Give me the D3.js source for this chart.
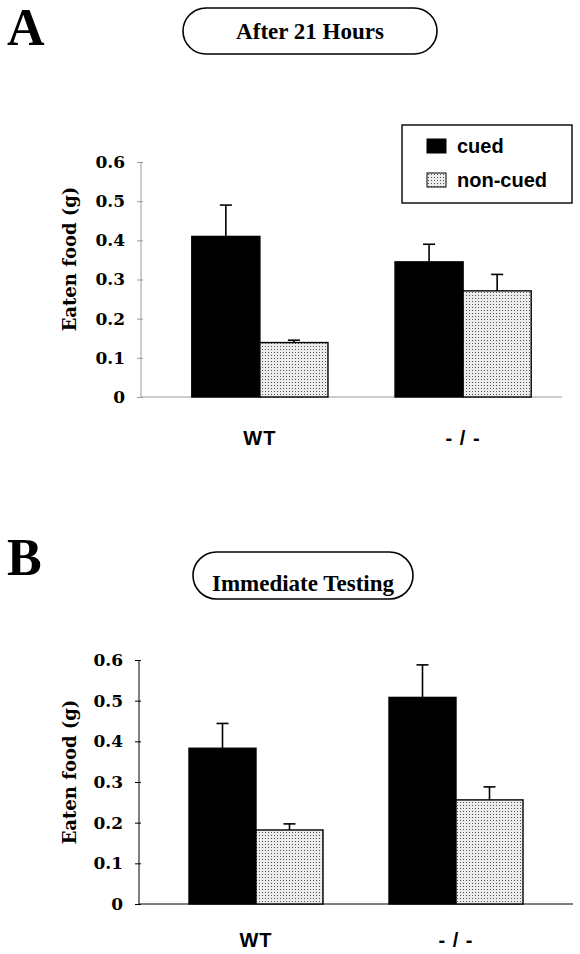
<!DOCTYPE html>
<html>
<head>
<meta charset="utf-8">
<title>eaten food - cued vs non-cued</title>
<style>
  body { margin: 0; background: #fff; }
  svg { display: block; }
</style>
<script src="https://cdn.jsdelivr.net/npm/d3@7"></script>
</head>
<body>
<script>
// data
const groups = ["WT", "- / -"];
const series = ["cued", "non-cued"];
const yTicks = [0, 0.1, 0.2, 0.3, 0.4, 0.5, 0.6];

const after21Cued = [0.41, 0.345];
const after21CuedErr = [0.08, 0.045];
const after21NonCued = [0.139, 0.271];
const after21NonCuedErr = [0.006, 0.042];

const immediateCued = [0.383, 0.508];
const immediateCuedErr = [0.061, 0.08];
const immediateNonCued = [0.182, 0.256];
const immediateNonCuedErr = [0.015, 0.032];

const W = 580, H = 954;
const SERIF = "'DejaVu Serif', serif";
const TIMES = "'Liberation Serif', serif";
const SANS = "'Liberation Sans', Arial, sans-serif";

const svg = d3.select("body").append("svg").attr("width", W).attr("height", H);

// stipple for the non-cued bars
const pat = svg.append("defs").append("pattern")
    .attr("id", "stipple").attr("width", 3).attr("height", 3)
    .attr("patternUnits", "userSpaceOnUse");
pat.append("rect").attr("width", 3).attr("height", 3).attr("fill", "#ececec");
pat.append("rect").attr("x", 1).attr("y", 1).attr("width", 1).attr("height", 1).attr("fill", "#555");

const fills = { "cued": "#000", "non-cued": "url(#stipple)" };

function drawPanel(p) {
    const g = svg.append("g");

    // panel letter
    g.append("text").attr("x", 7).attr("y", p.letterY)
        .style("font-family", TIMES).style("font-weight", "bold")
        .style("font-size", "52px").text(p.letter);

    // rounded title box
    g.append("rect").attr("x", p.pill[0]).attr("y", p.pill[1])
        .attr("width", p.pill[2]).attr("height", p.pill[3])
        .attr("rx", p.pill[3] / 2).attr("fill", "none").attr("stroke", "#000").attr("stroke-width", 1.6);
    g.append("text")
        .attr("x", p.pill[0] + p.pill[2] / 2).attr("y", p.titleY)
        .attr("text-anchor", "middle")
        .style("font-family", TIMES).style("font-weight", "bold").style("font-size", "23px")
        .text(p.title);

    const x0 = d3.scaleBand().domain(groups).range([p.left, p.right])
        .paddingInner(0.33).paddingOuter(0.25);
    const x1 = d3.scaleBand().domain(series).range([0, x0.bandwidth()]);
    const y = d3.scaleLinear().domain([0, 0.6]).range([p.bottom, p.top]);

    // y axis
    const ya = g.append("g").attr("transform", `translate(${p.left},0)`)
        .call(d3.axisLeft(y).tickValues(yTicks).tickSize(4).tickPadding(12)
            .tickFormat(d => d === 0 ? "0" : d3.format(".1f")(d)));
    ya.select(".domain").attr("stroke", p.axisColor).attr("d", `M0,${p.top}V${p.bottom}`);
    ya.selectAll(".tick line").attr("stroke", p.axisColor).attr("x2", -4).attr("x1", 2);
    ya.selectAll(".tick text").attr("fill", "#000")
        .style("font-family", SERIF).style("font-weight", "bold").style("font-size", "17px");

    // baseline
    g.append("line").attr("x1", p.left).attr("x2", p.axisEnd)
        .attr("y1", y(0)).attr("y2", y(0)).attr("stroke", p.axisColor).attr("stroke-width", 1);

    g.append("text")
        .attr("transform", `translate(76,${p.labelY}) rotate(-90)`)
        .attr("text-anchor", "middle")
        .style("font-family", SERIF).style("font-weight", "bold").style("font-size", "18px")
        .text("Eaten food (g)");

    // bars + error bars
    const rows = [];
    groups.forEach((grp, i) => {
        rows.push({ grp, s: "cued", v: p.cued[i], e: p.cuedErr[i] });
        rows.push({ grp, s: "non-cued", v: p.nonCued[i], e: p.nonCuedErr[i] });
    });
    const bx = d => x0(d.grp) + x1(d.s);
    const cx = d => bx(d) + x1.bandwidth() / 2;

    g.selectAll(".err").data(rows).join("line").attr("class", "err")
        .attr("x1", cx).attr("x2", cx).attr("y1", d => y(d.v)).attr("y2", d => y(d.v + d.e))
        .attr("stroke", "#000").attr("stroke-width", 1.6);
    g.selectAll(".cap").data(rows).join("line").attr("class", "cap")
        .attr("x1", d => cx(d) - 6).attr("x2", d => cx(d) + 6)
        .attr("y1", d => y(d.v + d.e)).attr("y2", d => y(d.v + d.e))
        .attr("stroke", "#000").attr("stroke-width", 1.6);
    g.selectAll(".bar").data(rows).join("rect").attr("class", "bar")
        .attr("x", bx).attr("y", d => y(d.v))
        .attr("width", x1.bandwidth()).attr("height", d => y(0) - y(d.v))
        .attr("fill", d => fills[d.s]).attr("stroke", "#000").attr("stroke-width", 1.4);

    // group labels
    g.selectAll(".grp").data(groups).join("text").attr("class", "grp")
        .attr("x", d => x0(d) + x0.bandwidth() / 2).attr("y", p.groupY)
        .attr("text-anchor", "middle")
        .style("font-family", SANS).style("font-weight", "bold").style("font-size", "20px")
        .style("letter-spacing", "1px")
        .text(d => d);
}

drawPanel({
    letter: "A", letterY: 45, title: "After 21 Hours", titleY: 39,
    pill: [183, 8, 254, 46],
    left: 141, right: 582, axisEnd: 562, top: 162, bottom: 397,
    axisColor: "#9a9a9a", labelY: 259, groupY: 445,
    cued: after21Cued, cuedErr: after21CuedErr,
    nonCued: after21NonCued, nonCuedErr: after21NonCuedErr
});

drawPanel({
    letter: "B", letterY: 575, title: "Immediate Testing", titleY: 591,
    pill: [193, 552, 220, 47],
    left: 139, right: 573, axisEnd: 573, top: 660, bottom: 904,
    axisColor: "#000", labelY: 772, groupY: 947,
    cued: immediateCued, cuedErr: immediateCuedErr,
    nonCued: immediateNonCued, nonCuedErr: immediateNonCuedErr
});

// legend (panel A)
const leg = svg.append("g");
leg.append("rect").attr("x", 402).attr("y", 125).attr("width", 170).attr("height", 78)
    .attr("fill", "#fff").attr("stroke", "#000").attr("stroke-width", 1.4);
const li = leg.selectAll(".li").data(series).join("g").attr("class", "li")
    .attr("transform", (d, i) => `translate(427,${139 + i * 34})`);
li.append("rect").attr("width", 19).attr("height", 14)
    .attr("fill", d => fills[d]).attr("stroke", "#000").attr("stroke-width", 1);
li.append("text").attr("x", 30).attr("y", 14)
    .style("font-family", SANS).style("font-weight", "bold").style("font-size", "20px")
    .text(d => d);
</script>
</body>
</html>
